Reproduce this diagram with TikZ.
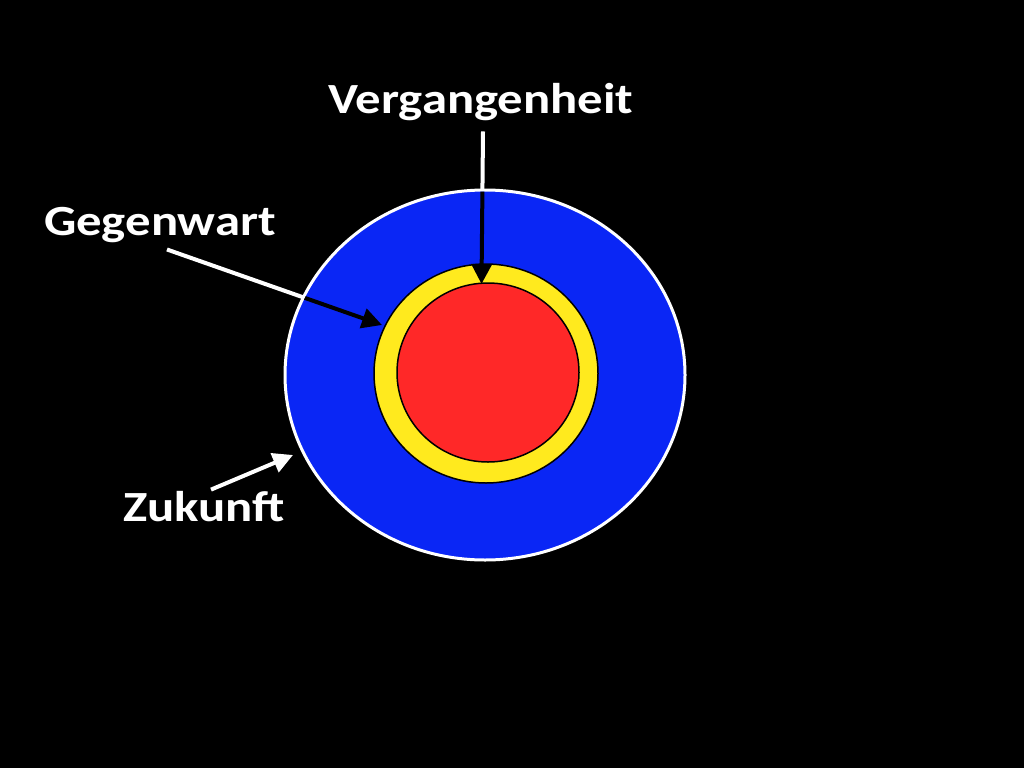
\documentclass[tikz,border=0pt]{standalone}
\usepackage{fontspec}
\setmainfont{Carlito}[FakeStretch=1.18]
\usetikzlibrary{arrows.meta}
\definecolor{zukblue}{RGB}{10,38,245}
\definecolor{gegyellow}{RGB}{255,234,30}
\definecolor{vergred}{RGB}{255,40,40}
\tikzset{
  label text/.style={text=white, font=\fontsize{43}{50}\selectfont\bfseries, inner sep=4pt, anchor=base},
  pointer/.style={line width=4pt, -{Triangle[length=20pt, width=20pt]}}
}
\begin{document}
\begin{tikzpicture}[x=1pt, y=-1pt]
	% Background
	\fill[black] (0,0) rectangle (1024,768);
	\useasboundingbox (0,0) rectangle (1024,768);
	% Rings
	\draw[fill=zukblue, draw=white, line width=3pt] (485,375) ellipse [x radius=200, y radius=185];
	\draw[fill=gegyellow, draw=black, line width=1.5pt] (486,373.5) ellipse [x radius=112, y radius=109.5];
	\draw[fill=vergred, draw=black, line width=1.5pt] (488,372.5) ellipse [x radius=91, y radius=89.5];
	% Labels
	\node[label text] (verg) at (481,113) {Vergangenheit};
	\node[label text] (gegen) at (160,235) {Gegenwart};
	\node[label text] (zuk) at (204,521) {Zukunft};
	% Arrow ends
	\coordinate (vergStart) at ([xshift=2pt, yshift=-7pt]verg.south);
	\coordinate (gegenStart) at ([xshift=7pt, yshift=-3pt]gegen.south);
	\coordinate (zukStart) at ([xshift=7pt, yshift=-3pt]zuk.north);
	\coordinate (vergTip) at (481.5,284);
	\coordinate (gegenTip) at (382,325);
	\coordinate (zukTip) at (293,455);
	% White parts outside the blue ring
	\begin{scope}[even odd rule]
		\clip (0,0) rectangle (1024,768) (485,375) ellipse [x radius=200, y radius=185];
		\draw[pointer, white] (vergStart) -- (vergTip);
		\draw[pointer, white] (gegenStart) -- (gegenTip);
		\draw[pointer, white] (zukStart) -- (zukTip);
	\end{scope}
	% Black parts inside
	\begin{scope}
		\clip (485,375) ellipse [x radius=198.5, y radius=183.5];
		\draw[pointer, black] (vergStart) -- (vergTip);
		\draw[pointer, black] (gegenStart) -- (gegenTip);
		\draw[pointer, black] (zukStart) -- (zukTip);
	\end{scope}
\end{tikzpicture}
\end{document}
